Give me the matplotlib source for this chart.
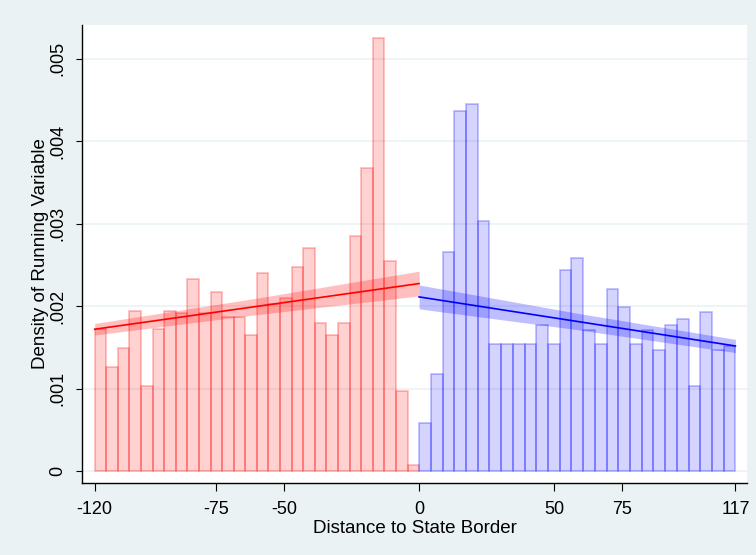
import matplotlib
matplotlib.use("Agg")
import matplotlib.pyplot as plt
import numpy as np

plt.rcParams["font.family"] = ["Liberation Sans", "DejaVu Sans"]

# histogram bins (left: 28 bins over [-120, 0], right: 27 bins over [0, 117])
left_edges = np.linspace(-120, 0, 29)
right_edges = np.linspace(0, 117, 28)

left_density = [
    1.727, 1.266, 1.493, 1.946, 1.036, 1.719, 1.942, 1.910, 2.326, 1.920,
    2.168, 1.873, 1.873, 1.646, 2.399, 2.020, 2.095, 2.472, 2.702, 1.792,
    1.646, 1.792, 2.848, 3.673, 5.251, 2.544, 0.971, 0.073,
]
right_density = [
    0.586, 1.181, 2.661, 4.371, 4.448, 3.037, 1.545, 1.545, 1.545, 1.545,
    1.775, 1.545, 2.442, 2.588, 1.706, 1.545, 2.212, 1.994, 1.545, 1.706,
    1.472, 1.771, 1.848, 1.027, 1.925, 1.472, 1.520,
]

# fitted density and confidence band (x, fit, half-width), in units of 1e-3
left_fit_x = [-120, -60, 0]
left_fit = [1.719, 1.996, 2.273]
left_ci = [0.07, 0.10, 0.15]
right_fit_x = [0, 58, 117]
right_fit = [2.111, 1.816, 1.516]
right_ci = [0.145, 0.10, 0.08]

xticks = [-120, -75, -50, 0, 50, 75, 117]
yticks = [0, 0.001, 0.002, 0.003, 0.004, 0.005]
ytick_labels = ["0", ".001", ".002", ".003", ".004", ".005"]

bg = "#EAF2F3"
fig = plt.figure(figsize=(7.56, 5.55), dpi=100, facecolor=bg)
ax = fig.add_axes([82 / 756, 1 - 483 / 555, (747 - 82) / 756, (483 - 25) / 555])
ax.set_facecolor("white")

scale = 1e-3
for edges, dens, face, edge in [
    (left_edges, left_density, (1, 0, 0, 0.18), (1, 0, 0, 0.28)),
    (right_edges, right_density, (0, 0, 1, 0.17), (0, 0, 1, 0.27)),
]:
    widths = np.diff(edges)
    ax.bar(edges[:-1], np.array(dens) * scale, width=widths, align="edge",
           color=face, edgecolor=edge, linewidth=1.2, zorder=2)

for fx, fy, ci, col in [
    (left_fit_x, left_fit, left_ci, "red"),
    (right_fit_x, right_fit, right_ci, "blue"),
]:
    fy = np.array(fy) * scale
    ci = np.array(ci) * scale
    ax.fill_between(fx, fy - ci, fy + ci, color=col, alpha=0.25, linewidth=0, zorder=3)
    ax.plot(fx, fy, color=col, linewidth=1.2, zorder=4)

ax.set_xlim(-124.7, 121.3)
ax.set_ylim(-0.000146, 0.005409)
ax.set_xticks(xticks)
ax.set_xticklabels([str(t) for t in xticks])
ax.set_yticks(yticks)
ax.set_yticklabels(ytick_labels, rotation=90, va="center")
ax.grid(axis="y", color=bg, linewidth=1.2, zorder=0)
ax.set_axisbelow(True)
for side in ["top", "right"]:
    ax.spines[side].set_visible(False)
for side in ["left", "bottom"]:
    ax.spines[side].set_color("black")
    ax.spines[side].set_linewidth(1.0)
ax.tick_params(axis="x", direction="out", length=5.8, width=0.8, labelsize=13, pad=7.5)
ax.tick_params(axis="y", direction="out", length=4.5, width=0.8, labelsize=13, pad=7)
ax.set_xlabel("Distance to State Border", fontsize=13.5, labelpad=1)
ax.set_ylabel("Density of Running Variable", fontsize=13.5, labelpad=0)

fig.savefig("out.png", dpi=100, facecolor=bg)
